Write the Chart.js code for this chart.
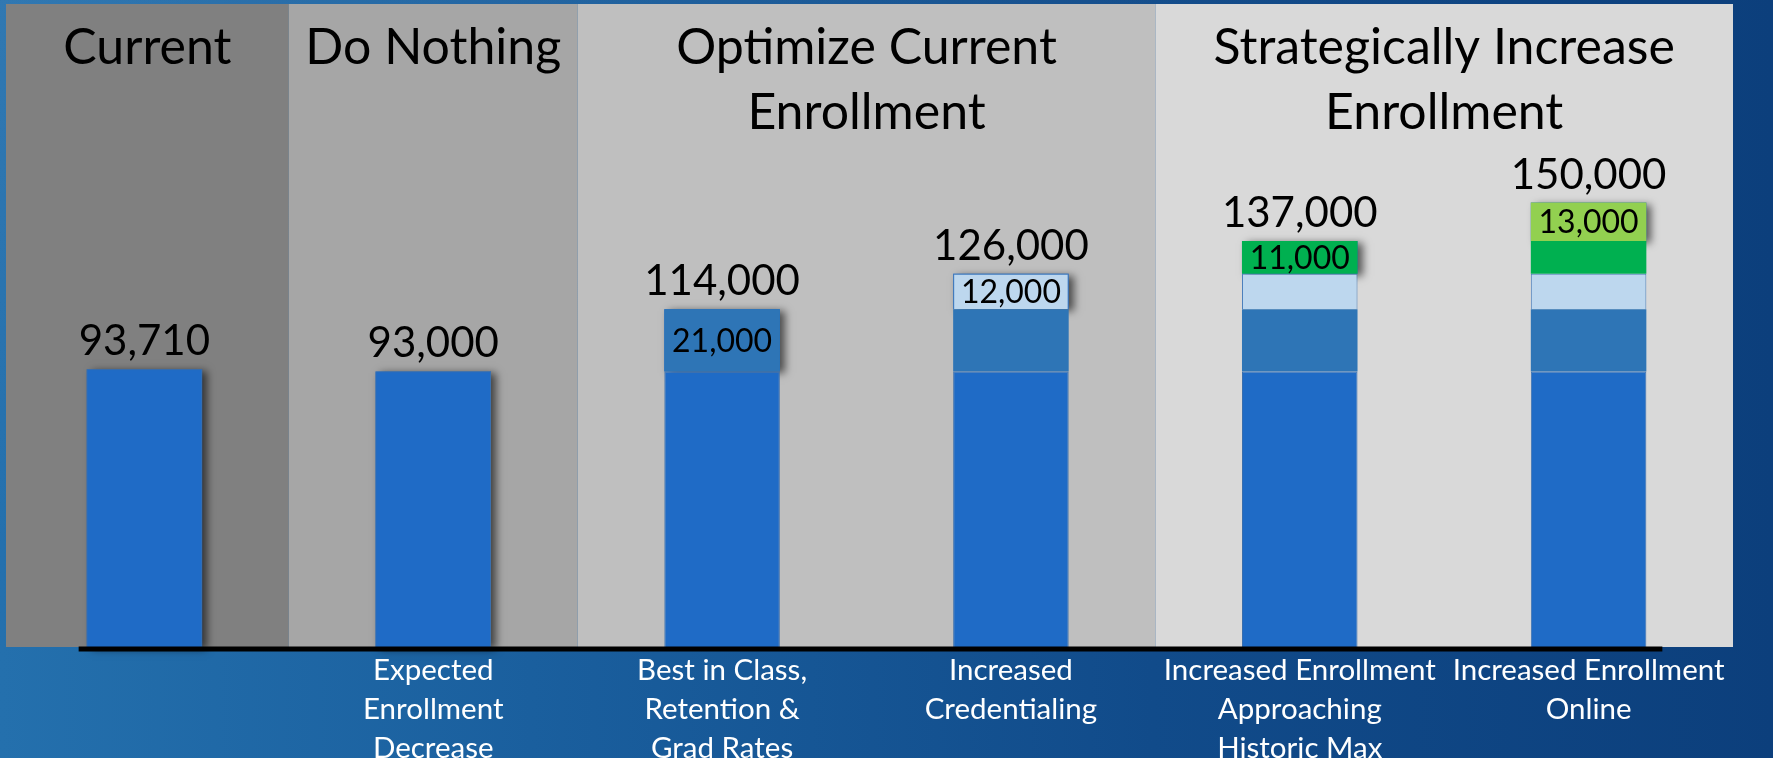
<!DOCTYPE html>
<html>
<head>
<meta charset="utf-8">
<script src="https://cdn.jsdelivr.net/npm/chart.js@4"></script>
<style>
  html, body { margin: 0; padding: 0; }
  body {
    width: 1773px; height: 758px; overflow: hidden;
    background:
      linear-gradient(160deg, rgba(255,255,255,0.06) 0%, rgba(255,255,255,0) 40%),
      linear-gradient(90deg, #2470ad 0%, #1a5f9e 30%, #114b8a 65%, #0c3f7c 100%);
  }
  #wrap { position: absolute; left: 0; top: 0; width: 1773px; height: 758px; }
</style>
</head>
<body>
<div id="wrap"><canvas id="c" width="1773" height="758"></canvas></div>
<script>
// ---- data ----
const categories = [
  '',
  ['Expected', 'Enrollment', 'Decrease'],
  ['Best in Class,', 'Retention &', 'Grad Rates'],
  ['Increased', 'Credentialing'],
  ['Increased Enrollment', 'Approaching', 'Historic Max'],
  ['Increased Enrollment', 'Online']
];
const baseEnrollment   = [93710, 93000, 93000, 93000, 93000, 93000];
const retentionGain    = [null, null, 21000, 21000, 21000, 21000];
const credentialGain   = [null, null, null, 12000, 12000, 12000];
const historicMaxGain  = [null, null, null, null, 11000, 11000];
const onlineGain       = [null, null, null, null, null, 13000];
const totals           = [93710, 93000, 114000, 126000, 137000, 150000];
const groupTitles      = [['Current'], ['Do Nothing'], ['Optimize Current', 'Enrollment'], ['Strategically Increase', 'Enrollment']];
const groupFirstCat    = [0, 1, 2, 4];
const groupLastCat     = [0, 1, 3, 5];
const groupColors      = ['#808080', '#a6a6a6', '#bfbfbf', '#d9d9d9'];

const fmt = v => v.toLocaleString('en-US');

// background panels + titles
const panelsPlugin = {
  id: 'panels',
  beforeDatasetsDraw(chart) {
    const { ctx, chartArea, scales } = chart;
    const xs = scales.x;
    const n = categories.length;
    const centers = [];
    for (let i = 0; i < n; i++) centers.push(xs.getPixelForValue(i));
    const half = (centers[1] - centers[0]) / 2;
    const edgeLeft = i => i === 0 ? chartArea.left + 6 : (centers[i - 1] + centers[i]) / 2;
    const edgeRight = i => i === n - 1 ? centers[i] + half : (centers[i] + centers[i + 1]) / 2;
    ctx.save();
    groupTitles.forEach((lines, g) => {
      const l = edgeLeft(groupFirstCat[g]);
      const r = edgeRight(groupLastCat[g]);
      ctx.fillStyle = groupColors[g];
      ctx.fillRect(l, chartArea.top, r - l, chartArea.bottom - chartArea.top);
      ctx.fillStyle = '#000';
      ctx.font = '50px Lato';
      ctx.textAlign = 'center';
      ctx.textBaseline = 'alphabetic';
      lines.forEach((t, k) => ctx.fillText(t, (l + r) / 2, chartArea.top + 60 + k * 65));
    });
    // shadows behind stacks
    ctx.shadowColor = 'rgba(0,0,0,0.6)';
    ctx.shadowBlur = 8;
    ctx.shadowOffsetX = 5;
    ctx.shadowOffsetY = 2;
    for (let i = 0; i < n; i++) {
      let top = Infinity, base = null, x = null, w = null;
      chart.data.datasets.forEach((ds, d) => {
        if (ds.data[i] == null) return;
        const el = chart.getDatasetMeta(d).data[i];
        top = Math.min(top, el.y);
        base = el.base; x = el.x; w = el.width;
      });
      if (x == null) continue;
      ctx.fillStyle = '#1f6bc6';
      ctx.fillRect(x - w / 2, top, w, base - top);
    }
    ctx.restore();
  },
  afterDatasetsDraw(chart) {
    const { ctx, chartArea } = chart;
    const n = categories.length;
    const datasets = chart.data.datasets;
    ctx.save();
    // axis line
    const first = chart.getDatasetMeta(0).data[0];
    const last = chart.getDatasetMeta(0).data[n - 1];
    ctx.strokeStyle = '#000';
    ctx.lineWidth = 5;
    ctx.beginPath();
    ctx.moveTo(first.x - first.width / 2 - 8, chartArea.bottom + 2);
    ctx.lineTo(last.x + last.width / 2 + 16, chartArea.bottom + 2);
    ctx.stroke();
    ctx.fillStyle = '#000';
    ctx.textAlign = 'center';
    ctx.textBaseline = 'alphabetic';
    for (let i = 0; i < n; i++) {
      let topIdx = -1;
      datasets.forEach((ds, d) => { if (ds.data[i] != null) topIdx = d; });
      const topEl = chart.getDatasetMeta(topIdx).data[i];
      // total label
      ctx.font = '42px Lato';
      ctx.fillText(fmt(totals[i]), topEl.x, topEl.y - 14);
      // segment label on top increment
      if (topIdx > 0) {
        ctx.font = '32px Lato';
        ctx.textBaseline = 'middle';
        ctx.fillText(fmt(datasets[topIdx].data[i]), topEl.x, (topEl.y + topEl.base) / 2 + 1);
        ctx.textBaseline = 'alphabetic';
      }
    }
    ctx.restore();
  }
};

const mk = (label, data, color, border) => ({
  label, data, backgroundColor: color,
  borderColor: border || color, borderWidth: border ? 1 : 0,
  barPercentage: 0.4, categoryPercentage: 1.0, stack: 's'
});

new Chart(document.getElementById('c'), {
  type: 'bar',
  data: {
    labels: categories,
    datasets: [
      mk('Base enrollment', baseEnrollment, '#1f6bc6', '#3a6fae'),
      mk('Retention & grad rates', retentionGain, '#2e75b6'),
      mk('Credentialing', credentialGain, '#bdd7ee', '#4a7ebb'),
      mk('Approaching historic max', historicMaxGain, '#00b050'),
      mk('Online', onlineGain, '#92d050')
    ]
  },
  options: {
    responsive: false,
    animation: false,
    layout: { padding: { top: 4, left: 0, right: 40, bottom: 0 } },
    plugins: { legend: { display: false }, tooltip: { enabled: false }, title: { display: false } },
    scales: {
      x: {
        stacked: true,
        grid: { display: false, drawTicks: false },
        border: { display: false },
        ticks: {
          color: '#ffffff',
          font: { family: 'Lato', size: 29.5, lineHeight: '39px' },
          padding: 4, maxRotation: 0, autoSkip: false
        },
        afterFit(scale) { scale.height = 111; }
      },
      y: {
        stacked: true, display: false, min: 0, max: 217000
      }
    }
  },
  plugins: [panelsPlugin]
});
</script>
</body>
</html>
